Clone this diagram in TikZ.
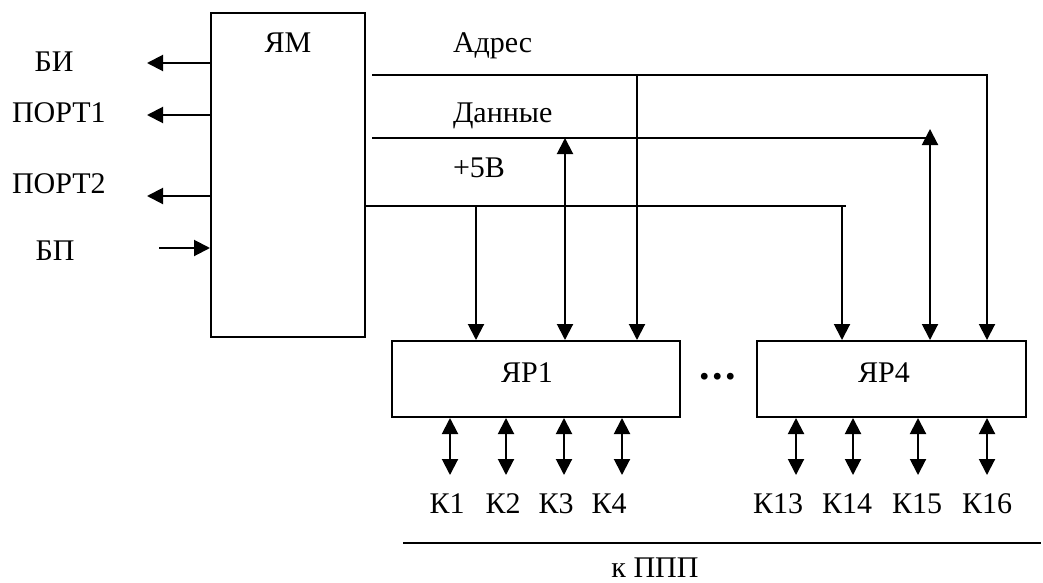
\documentclass[tikz,border=0pt]{standalone}
\usepackage{fontspec}
\setmainfont{Liberation Serif}
\usetikzlibrary{arrows.meta,calc}
\begin{document}
\begin{tikzpicture}[x=0.5pt,y=-0.5pt,line width=1pt,
  font=\fontsize{15}{18}\selectfont,
  arr/.style={-{Triangle[length=8pt,width=8pt]}},
  darr/.style={{Triangle[length=8pt,width=8pt]}-{Triangle[length=8pt,width=8pt]}},
  box/.style={draw,inner sep=0pt},
  lbl/.style={inner sep=0pt}]
\useasboundingbox (0,0) rectangle (1043,583);
% boxes
\node[box,minimum width=77pt,minimum height=162pt] (ym) at (288,175) {};
\node[lbl,anchor=base] (ymt) at (288,53) {ЯМ};
\node[box,minimum width=144pt,minimum height=38pt] (yr1) at (536,379) {};
\node[lbl,anchor=base] (yr1t) at (527,382) {ЯР1};
\node[box,minimum width=134.5pt,minimum height=38pt] (yr4) at (891.5,379) {};
\node[lbl,anchor=base] (yr4t) at (884,382) {ЯР4};
\node[lbl] (dots) at (717.5,377) {\fontsize{21}{24}\selectfont\bfseries .\kern1.2pt.\kern1.2pt.};
% left labels
\node[lbl,anchor=base] (bi) at (54,72) {БИ};
\node[lbl,anchor=base west] (p1) at (11,123) {ПОРТ1};
\node[lbl,anchor=base west] (p2) at (11,193) {ПОРТ2};
\node[lbl,anchor=base] (bp) at (55,260) {БП};
\coordinate (biE) at (147,63);
\coordinate (p1E) at (147,115);
\coordinate (p2E) at (147,196);
\coordinate (bpS) at (159,248);
\draw[arr] (ym.west |- biE) -- (biE);
\draw[arr] (ym.west |- p1E) -- (p1E);
\draw[arr] (ym.west |- p2E) -- (p2E);
\draw[arr] (bpS) -- (ym.west |- bpS);
% bus labels
\node[lbl,anchor=base west] (adr) at (452,53) {Адрес};
\node[lbl,anchor=base west] (dat) at (452,122) {Данные};
\node[lbl,anchor=base west] (pw) at (452,177) {+5В};
% address bus
\coordinate (a0) at (372,75);
\coordinate (a1) at (987,75);
\coordinate (ab) at (637,75);
\draw[arr] (a0) -- (a1) -- (a1 |- yr4.north);
\draw[arr] (ab) -- (ab |- yr1.north);
% data bus
\coordinate (d0) at (372,138);
\coordinate (d1) at (930,138);
\coordinate (d1t) at (930,129);
\coordinate (db) at (565,138);
\draw (d0) -- (d1);
\draw[darr] (d1 |- yr4.north) -- (d1t);
\draw[darr] (db |- yr1.north) -- (db);
% power bus
\coordinate (w0) at (ym.east |- 0,206);
\coordinate (w1) at (846,206);
\coordinate (wb1) at (476,206);
\coordinate (wb4) at (842,206);
\draw (w0) -- (w1);
\draw[arr] (wb1) -- (wb1 |- yr1.north);
\draw[arr] (wb4) -- (wb4 |- yr4.north);
% channel arrows
\foreach \x/\n in {450/1,506/2,564/3,622/4}{
  \coordinate (c\n) at (\x,475);
  \draw[darr] (c\n |- yr1.south) -- (c\n);
}
\foreach \x/\n in {796/13,853/14,918/15,987/16}{
  \coordinate (c\n) at (\x,475);
  \draw[darr] (c\n |- yr4.south) -- (c\n);
}
\node[lbl,anchor=base] (k1) at (447,513) {К1};
\node[lbl,anchor=base] (k2) at (503,513) {К2};
\node[lbl,anchor=base] (k3) at (556,513) {К3};
\node[lbl,anchor=base] (k4) at (609,513) {К4};
\node[lbl,anchor=base] (k13) at (778,513) {К13};
\node[lbl,anchor=base] (k14) at (847,513) {К14};
\node[lbl,anchor=base] (k15) at (917,513) {К15};
\node[lbl,anchor=base] (k16) at (987,513) {К16};
% bottom line
\coordinate (l0) at (403,543);
\coordinate (l1) at (1041,543);
\draw (l0) -- (l1);
\node[lbl,anchor=base] (ppp) at (655,577) {к ППП};
\end{tikzpicture}
\end{document}
